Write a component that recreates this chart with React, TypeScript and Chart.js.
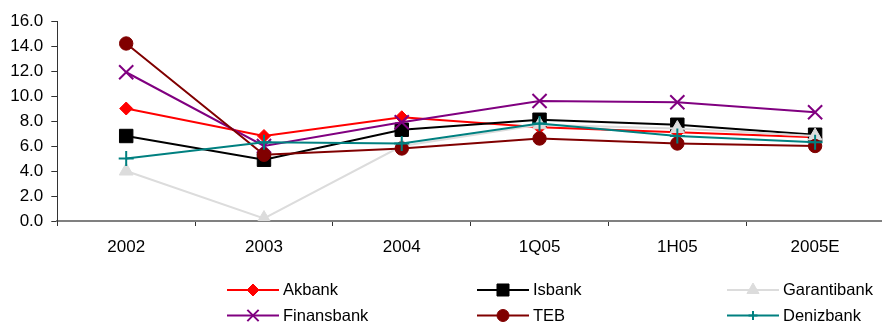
import React, { useEffect, useRef } from "react";
import { Chart, registerables } from "chart.js";
import { drawPoint } from "chart.js/helpers";

Chart.register(...registerables);

const categories = ["2002", "2003", "2004", "1Q05", "1H05", "2005E"];

const akbank = [9.0, 6.8, 8.3, 7.5, 7.1, 6.7];
const isbank = [6.8, 4.9, 7.3, 8.1, 7.7, 6.9];
const garantibank = [4.0, 0.2, 6.0, 7.7, 7.4, 6.8];
const finansbank = [11.9, 6.0, 7.9, 9.6, 9.5, 8.7];
const teb = [14.2, 5.3, 5.8, 6.6, 6.2, 6.0];
const denizbank = [5.0, 6.3, 6.2, 7.8, 6.8, 6.3];

const yMin = 0;
const yMax = 16;
const yStep = 2;

const FONT = "'Liberation Sans', Arial, Helvetica, sans-serif";

type Series = {
  label: string;
  data: number[];
  color: string;
  pointStyle: string;
  radius: number;
  pointBorder: number;
  legendRadius: number;
};

const series: Series[] = [
  { label: "Akbank", data: akbank, color: "#ff0000", pointStyle: "rectRot", radius: 6.5, pointBorder: 1, legendRadius: 6 },
  { label: "Isbank", data: isbank, color: "#000000", pointStyle: "rect", radius: 9.5, pointBorder: 1, legendRadius: 8.5 },
  { label: "Garantibank", data: garantibank, color: "#dcdcdc", pointStyle: "triangle", radius: 8, pointBorder: 1, legendRadius: 7 },
  { label: "Finansbank", data: finansbank, color: "#800080", pointStyle: "crossRot", radius: 10, pointBorder: 2, legendRadius: 8 },
  { label: "TEB", data: teb, color: "#800000", pointStyle: "circle", radius: 6.7, pointBorder: 1, legendRadius: 6 },
  { label: "Denizbank", data: denizbank, color: "#008080", pointStyle: "cross", radius: 7.5, pointBorder: 2, legendRadius: 4.5 },
];

// Legend laid out in a fixed 3-column grid below the plot
const legendCols = [227, 477, 727];
const legendRows = [290, 315.5];
const legendLineLen = 52;
const legendTextGap = 4;

const gridLegend = {
  id: "gridLegend",
  afterDraw(chart: any) {
    const ctx = chart.ctx as CanvasRenderingContext2D;
    ctx.save();
    series.forEach((s, i) => {
      const col = i % 3;
      const row = Math.floor(i / 3);
      const x0 = legendCols[col];
      const y = legendRows[row];
      ctx.strokeStyle = s.color;
      ctx.fillStyle = s.color;
      ctx.lineWidth = 2;
      ctx.beginPath();
      ctx.moveTo(x0, y);
      ctx.lineTo(x0 + legendLineLen, y);
      ctx.stroke();
      ctx.lineWidth = s.pointBorder;
      drawPoint(
        ctx,
        { pointStyle: s.pointStyle, rotation: 0, radius: s.legendRadius, borderWidth: s.pointBorder } as any,
        x0 + legendLineLen / 2,
        y
      );
      ctx.fillStyle = "#000000";
      ctx.font = `16.5px ${FONT}`;
      ctx.textAlign = "left";
      ctx.textBaseline = "middle";
      ctx.fillText(s.label, x0 + legendLineLen + legendTextGap, y + 0.5);
    });
    ctx.restore();
  },
};

export default function App() {
  const canvasRef = useRef<HTMLCanvasElement | null>(null);

  useEffect(() => {
    const canvas = canvasRef.current;
    if (!canvas) return;
    const chart = new Chart(canvas, {
      type: "line",
      data: {
        labels: categories,
        datasets: series.map((s, i) => ({
          label: s.label,
          data: s.data,
          borderColor: s.color,
          backgroundColor: s.color,
          borderWidth: 2,
          pointStyle: s.pointStyle as any,
          pointRadius: s.radius,
          pointHoverRadius: s.radius,
          pointBorderWidth: s.pointBorder,
          pointBackgroundColor: s.color,
          pointBorderColor: s.color,
          tension: 0,
          fill: false,
          order: series.length - i,
        })),
      },
      options: {
        responsive: false,
        animation: false,
        events: [],
        layout: { padding: { top: 21, right: 2, bottom: 62, left: 0 } },
        plugins: {
          legend: { display: false },
          tooltip: { enabled: false },
          title: { display: false },
        },
        scales: {
          x: {
            type: "category",
            offset: true,
            afterFit: (scale: any) => {
              scale.height = 40;
            },
            grid: {
              offset: true,
              drawOnChartArea: false,
              drawTicks: true,
              tickLength: 5,
              tickColor: "#333333",
            },
            border: { display: true, color: "#808080", width: 2 },
            ticks: {
              color: "#000000",
              padding: 11,
              maxRotation: 0,
              autoSkip: false,
              font: { family: FONT, size: 17 },
            },
          },
          y: {
            min: yMin,
            max: yMax,
            afterFit: (scale: any) => {
              scale.width = 57.3;
            },
            grid: {
              drawOnChartArea: false,
              drawTicks: true,
              tickLength: 6,
              tickColor: "#333333",
            },
            border: { display: true, color: "#333333", width: 1 },
            ticks: {
              stepSize: yStep,
              color: "#000000",
              padding: 8,
              font: { family: FONT, size: 17 },
              callback: (v: any) => Number(v).toFixed(1),
            },
          },
        },
      },
      plugins: [gridLegend],
    });
    return () => chart.destroy();
  }, []);

  return (
    <div
      style={{
        position: "fixed",
        left: 0,
        top: 0,
        width: 882,
        height: 323,
        overflow: "hidden",
        background: "#ffffff",
      }}
    >
      <canvas ref={canvasRef} width={896} height={323} style={{ display: "block", width: 896, height: 323 }} />
    </div>
  );
}
